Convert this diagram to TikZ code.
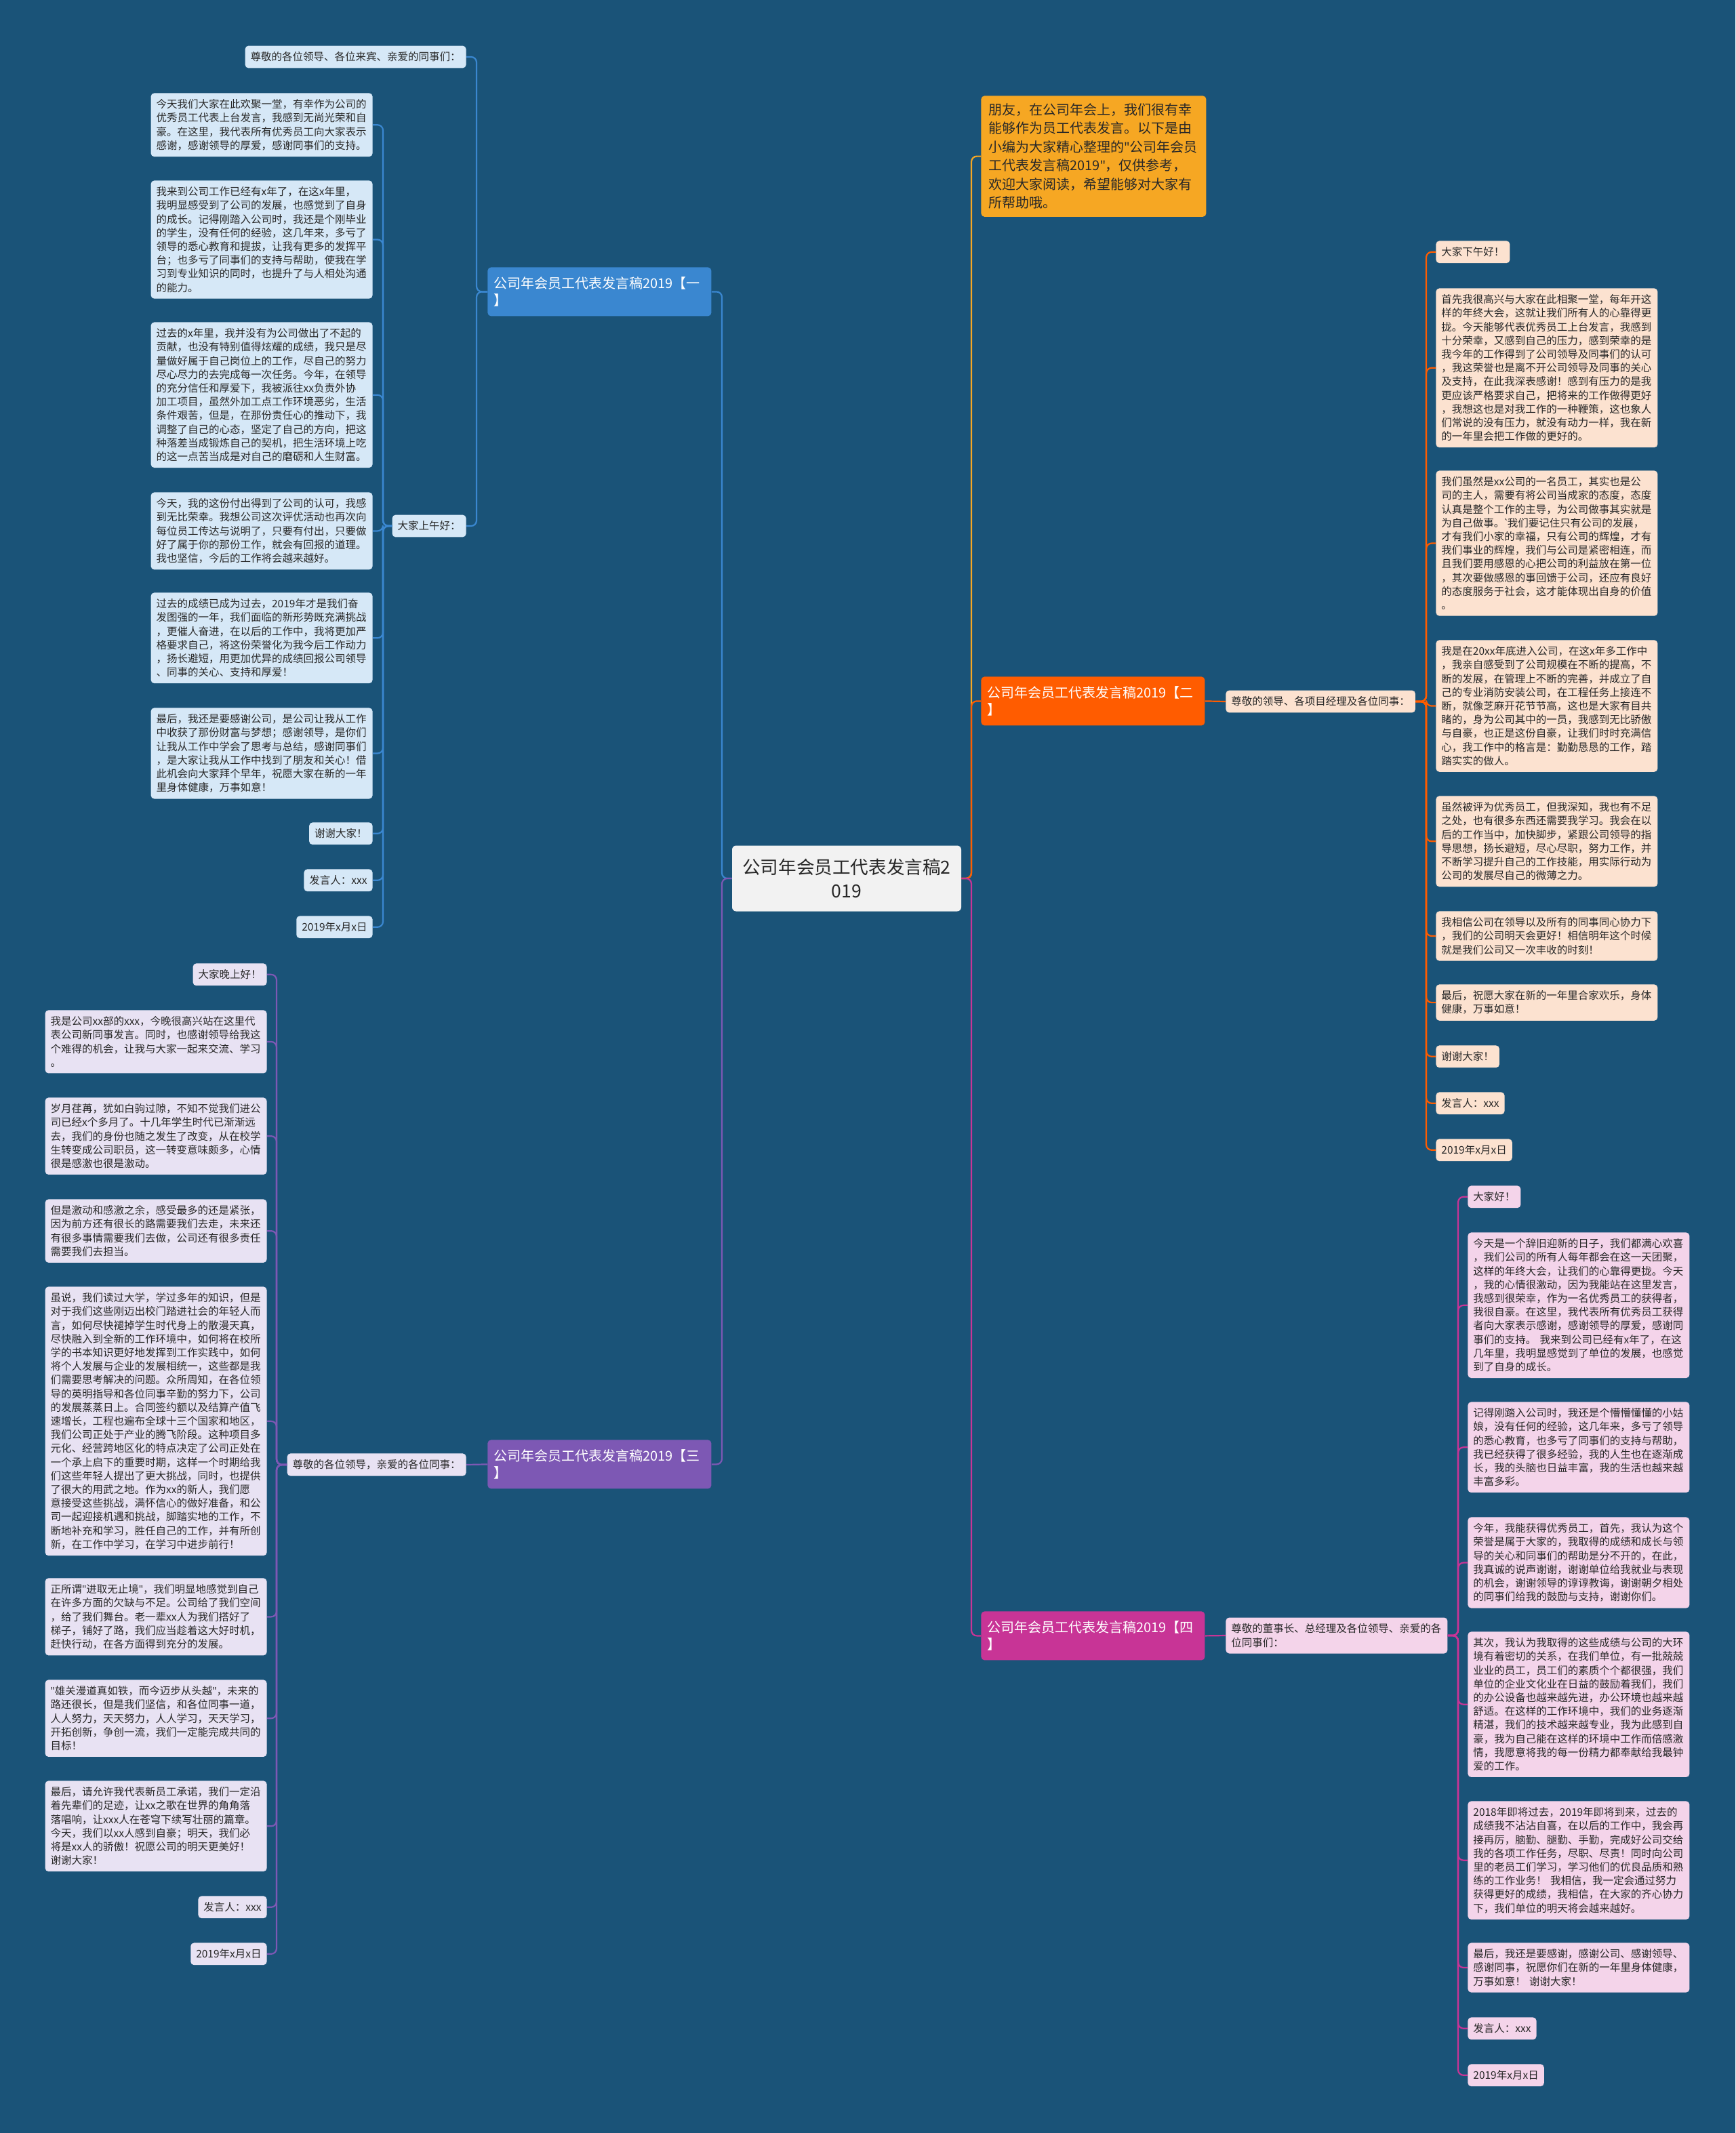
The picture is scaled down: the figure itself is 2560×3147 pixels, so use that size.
\documentclass[tikz,border=0pt]{standalone}
\usepackage{fontspec}
\setmainfont{Noto Sans CJK SC}
\newfontfamily\quotefont{Noto Sans}

\definecolor{bgblue}{RGB}{26,83,120}
\definecolor{leaftext}{RGB}{40,40,40}
\definecolor{rootfill}{RGB}{242,242,242}
\definecolor{introcol}{RGB}{246,167,35}
\definecolor{b1col}{RGB}{58,135,208}
\definecolor{b2col}{RGB}{255,92,0}
\definecolor{b3col}{RGB}{125,88,180}
\definecolor{b4col}{RGB}{200,52,150}
\definecolor{leaf1}{RGB}{214,232,247}
\definecolor{leaf2}{RGB}{252,226,208}
\definecolor{leaf3}{RGB}{232,226,243}
\definecolor{leaf4}{RGB}{244,212,234}

\newcommand{\leaffont}{\fontsize{7.75pt}{10.1pt}\selectfont}
\newcommand{\branchfont}{\fontsize{10pt}{12.5pt}\selectfont}
\newcommand{\introfont}{\fontsize{10pt}{13.75pt}\selectfont}
\newcommand{\rootfont}{\fontsize{13.3pt}{17.5pt}\selectfont}
\newcommand{\qmark}{{\quotefont"}}

\tikzset{
  leaf/.style={rounded corners=2.5pt, inner xsep=4pt, inner ysep=4.6pt,
    align=left, font=\leaffont, text=leaftext},
  para/.style={leaf, text width=155.5pt},
  branch/.style={rounded corners=2.5pt, inner xsep=4.5pt, text width=156pt,
    minimum height=36pt, align=left, font=\branchfont, text=white},
  root/.style={fill=rootfill, rounded corners=3pt, inner sep=0pt,
    minimum width=169pt, minimum height=48.5pt, align=center,
    font=\rootfont, text=leaftext},
  wire/.style={line width=1.1pt, rounded corners=4pt},
}

\begin{document}
\begin{tikzpicture}[x=0.5pt,y=-0.5pt]
  % Background
  \fill[bgblue] (0,0) rectangle (2560,3147);
  \useasboundingbox (0,0) rectangle (2560,3147);

  % Trunks
  \coordinate (t0l) at (1065,0);
  \coordinate (t0r) at (1433,0);
  \coordinate (t1) at (703,0);
  \coordinate (t1b) at (565,0);
  \coordinate (t2) at (2104,0);
  \coordinate (t3) at (408,0);
  \coordinate (t4) at (2151,0);

  % Centre
  \node[root] (root) at (1249,1296) {公司年会员工代表发言稿2\\019};

  % Main branches
  \node[branch, fill=b1col, anchor=north west] (b1) at (719,394) {公司年会员工代表发言稿2019【一\\】};
  \node[branch, fill=b2col, anchor=north west] (b2) at (1447,998) {公司年会员工代表发言稿2019【二\\】};
  \node[branch, fill=b3col, anchor=north west] (b3) at (719,2124) {公司年会员工代表发言稿2019【三\\】};
  \node[branch, fill=b4col, anchor=north west] (b4) at (1447,2377) {公司年会员工代表发言稿2019【四\\】};
  \node[rounded corners=2.5pt, fill=introcol, inner xsep=5.5pt, inner ysep=5.6pt,
    text width=155pt, align=left, font=\introfont, text=leaftext, anchor=north west]
    (intro) at (1447,141) {朋友，在公司年会上，我们很有幸\\能够作为员工代表发言。以下是由\\小编为大家精心整理的\qmark 公司年会员\\工代表发言稿2019\qmark ，仅供参考，\\欢迎大家阅读，希望能够对大家有\\所帮助哦。};

  \draw[wire, b1col] (root.west) -- (root.west -| t0l) |- (b1.east);
  \draw[wire, b3col] (root.west) -- (root.west -| t0l) |- (b3.east);
  \draw[wire, introcol] (root.east) -- (root.east -| t0r) |- (intro.west);
  \draw[wire, b2col] (root.east) -- (root.east -| t0r) |- (b2.west);
  \draw[wire, b4col] (root.east) -- (root.east -| t0r) |- (b4.west);

  % Branch one
  \node[leaf, fill=leaf1, anchor=east] (top1) at (688,84) {尊敬的各位领导、各位来宾、亲爱的同事们：};
  \node[leaf, fill=leaf1, anchor=east] (hi1) at (688,776) {大家上午好：};
  \node[para, fill=leaf1, anchor=north east] (l1a) at (550,137) {今天我们大家在此欢聚一堂，有幸作为公司的\\优秀员工代表上台发言，我感到无尚光荣和自\\豪。在这里，我代表所有优秀员工向大家表示\\感谢，感谢领导的厚爱，感谢同事们的支持。};
  \node[para, fill=leaf1, anchor=north east] (l1b) at (550,266) {我来到公司工作已经有x年了，在这x年里，\\我明显感受到了公司的发展，也感觉到了自身\\的成长。记得刚踏入公司时，我还是个刚毕业\\的学生，没有任何的经验，这几年来，多亏了\\领导的悉心教育和提拔，让我有更多的发挥平\\台；也多亏了同事们的支持与帮助，使我在学\\习到专业知识的同时，也提升了与人相处沟通\\的能力。};
  \node[para, fill=leaf1, anchor=north east] (l1c) at (550,475) {过去的x年里，我并没有为公司做出了不起的\\贡献，也没有特别值得炫耀的成绩，我只是尽\\量做好属于自己岗位上的工作，尽自己的努力\\尽心尽力的去完成每一次任务。今年，在领导\\的充分信任和厚爱下，我被派往xx负责外协\\加工项目，虽然外加工点工作环境恶劣，生活\\条件艰苦，但是，在那份责任心的推动下，我\\调整了自己的心态，坚定了自己的方向，把这\\种落差当成锻炼自己的契机，把生活环境上吃\\的这一点苦当成是对自己的磨砺和人生财富。};
  \node[para, fill=leaf1, anchor=north east] (l1d) at (550,726) {今天，我的这份付出得到了公司的认可，我感\\到无比荣幸。我想公司这次评优活动也再次向\\每位员工传达与说明了，只要有付出，只要做\\好了属于你的那份工作，就会有回报的道理。\\我也坚信，今后的工作将会越来越好。};
  \node[para, fill=leaf1, anchor=north east] (l1e) at (550,874) {过去的成绩已成为过去，2019年才是我们奋\\发图强的一年，我们面临的新形势既充满挑战\\，更催人奋进，在以后的工作中，我将更加严\\格要求自己，将这份荣誉化为我今后工作动力\\，扬长避短，用更加优异的成绩回报公司领导\\、同事的关心、支持和厚爱！};
  \node[para, fill=leaf1, anchor=north east] (l1f) at (550,1044) {最后，我还是要感谢公司，是公司让我从工作\\中收获了那份财富与梦想；感谢领导，是你们\\让我从工作中学会了思考与总结，感谢同事们\\，是大家让我从工作中找到了朋友和关心！借\\此机会向大家拜个早年，祝愿大家在新的一年\\里身体健康，万事如意！};
  \node[leaf, fill=leaf1, anchor=north east] (l1g) at (550,1213) {谢谢大家！};
  \node[leaf, fill=leaf1, anchor=north east] (l1h) at (550,1282) {发言人：xxx};
  \node[leaf, fill=leaf1, anchor=north east] (l1i) at (550,1351) {2019年x月x日};

  \foreach \n in {top1,hi1}
    \draw[wire, b1col] (b1.west) -- (b1.west -| t1) |- (\n.east);
  \foreach \n in {l1a,l1b,l1c,l1d,l1e,l1f,l1g,l1h,l1i}
    \draw[wire, b1col] (hi1.west) -- (hi1.west -| t1b) |- (\n.east);

  % Branch two
  \node[leaf, fill=leaf2, anchor=west] (hi2) at (1808,1035) {尊敬的领导、各项目经理及各位同事：};
  \node[leaf, fill=leaf2, anchor=north west] (l2a) at (2118,355) {大家下午好！};
  \node[para, fill=leaf2, anchor=north west] (l2b) at (2118,425) {首先我很高兴与大家在此相聚一堂，每年开这\\样的年终大会，这就让我们所有人的心靠得更\\拢。今天能够代表优秀员工上台发言，我感到\\十分荣幸，又感到自己的压力，感到荣幸的是\\我今年的工作得到了公司领导及同事们的认可\\，我这荣誉也是离不开公司领导及同事的关心\\及支持，在此我深表感谢！感到有压力的是我\\更应该严格要求自己，把将来的工作做得更好\\，我想这也是对我工作的一种鞭策，这也象人\\们常说的没有压力，就没有动力一样，我在新\\的一年里会把工作做的更好的。};
  \node[para, fill=leaf2, anchor=north west] (l2c) at (2118,694) {我们虽然是xx公司的一名员工，其实也是公\\司的主人，需要有将公司当成家的态度，态度\\认真是整个工作的主导，为公司做事其实就是\\为自己做事。{\quotefont\textasciigrave}我们要记住只有公司的发展，\\才有我们小家的幸福，只有公司的辉煌，才有\\我们事业的辉煌，我们与公司是紧密相连，而\\且我们要用感恩的心把公司的利益放在第一位\\，其次要做感恩的事回馈于公司，还应有良好\\的态度服务于社会，这才能体现出自身的价值\\。};
  \node[para, fill=leaf2, anchor=north west] (l2d) at (2118,944) {我是在20xx年底进入公司，在这x年多工作中\\，我亲自感受到了公司规模在不断的提高，不\\断的发展，在管理上不断的完善，并成立了自\\己的专业消防安装公司，在工程任务上接连不\\断，就像芝麻开花节节高，这也是大家有目共\\睹的，身为公司其中的一员，我感到无比骄傲\\与自豪，也正是这份自豪，让我们时时充满信\\心，我工作中的格言是：勤勤恳恳的工作，踏\\踏实实的做人。};
  \node[para, fill=leaf2, anchor=north west] (l2e) at (2118,1174) {虽然被评为优秀员工，但我深知，我也有不足\\之处，也有很多东西还需要我学习。我会在以\\后的工作当中，加快脚步，紧跟公司领导的指\\导思想，扬长避短，尽心尽职，努力工作，并\\不断学习提升自己的工作技能，用实际行动为\\公司的发展尽自己的微薄之力。};
  \node[para, fill=leaf2, anchor=north west] (l2f) at (2118,1344) {我相信公司在领导以及所有的同事同心协力下\\，我们的公司明天会更好！相信明年这个时候\\就是我们公司又一次丰收的时刻！};
  \node[para, fill=leaf2, anchor=north west] (l2g) at (2118,1452) {最后，祝愿大家在新的一年里合家欢乐，身体\\健康，万事如意！};
  \node[leaf, fill=leaf2, anchor=north west] (l2h) at (2118,1542) {谢谢大家！};
  \node[leaf, fill=leaf2, anchor=north west] (l2i) at (2118,1611) {发言人：xxx};
  \node[leaf, fill=leaf2, anchor=north west] (l2j) at (2118,1680) {2019年x月x日};

  \draw[wire, b2col] (b2.east) -- (hi2.west);
  \foreach \n in {l2a,l2b,l2c,l2d,l2e,l2f,l2g,l2h,l2i,l2j}
    \draw[wire, b2col] (hi2.east) -- (hi2.east -| t2) |- (\n.west);

  % Branch three
  \node[leaf, fill=leaf3, anchor=east] (hi3) at (688,2161) {尊敬的各位领导，亲爱的各位同事：};
  \node[leaf, fill=leaf3, anchor=north east] (l3a) at (394,1421) {大家晚上好！};
  \node[para, fill=leaf3, anchor=north east] (l3b) at (394,1490) {我是公司xx部的xxx，今晚很高兴站在这里代\\表公司新同事发言。同时，也感谢领导给我这\\个难得的机会，让我与大家一起来交流、学习\\。};
  \node[para, fill=leaf3, anchor=north east] (l3c) at (394,1619) {岁月荏苒，犹如白驹过隙，不知不觉我们进公\\司已经x个多月了。十几年学生时代已渐渐远\\去，我们的身份也随之发生了改变，从在校学\\生转变成公司职员，这一转变意味颇多，心情\\很是感激也很是激动。};
  \node[para, fill=leaf3, anchor=north east] (l3d) at (394,1769) {但是激动和感激之余，感受最多的还是紧张，\\因为前方还有很长的路需要我们去走，未来还\\有很多事情需要我们去做，公司还有很多责任\\需要我们去担当。};
  \node[para, fill=leaf3, anchor=north east] (l3e) at (394,1898) {虽说，我们读过大学，学过多年的知识，但是\\对于我们这些刚迈出校门踏进社会的年轻人而\\言，如何尽快褪掉学生时代身上的散漫天真，\\尽快融入到全新的工作环境中，如何将在校所\\学的书本知识更好地发挥到工作实践中，如何\\将个人发展与企业的发展相统一，这些都是我\\们需要思考解决的问题。众所周知，在各位领\\导的英明指导和各位同事辛勤的努力下，公司\\的发展蒸蒸日上。合同签约额以及结算产值飞\\速增长，工程也遍布全球十三个国家和地区，\\我们公司正处于产业的腾飞阶段。这种项目多\\元化、经营跨地区化的特点决定了公司正处在\\一个承上启下的重要时期，这样一个时期给我\\们这些年轻人提出了更大挑战，同时，也提供\\了很大的用武之地。作为xx的新人，我们愿\\意接受这些挑战，满怀信心的做好准备，和公\\司一起迎接机遇和挑战，脚踏实地的工作，不\\断地补充和学习，胜任自己的工作，并有所创\\新，在工作中学习，在学习中进步前行！};
  \node[para, fill=leaf3, anchor=north east] (l3f) at (394,2328) {正所谓\qmark 进取无止境\qmark ，我们明显地感觉到自己\\在许多方面的欠缺与不足。公司给了我们空间\\，给了我们舞台。老一辈xx人为我们搭好了\\梯子，铺好了路，我们应当趁着这大好时机，\\赶快行动，在各方面得到充分的发展。};
  \node[para, fill=leaf3, anchor=north east] (l3g) at (394,2478) {\qmark 雄关漫道真如铁，而今迈步从头越\qmark ，未来的\\路还很长，但是我们坚信，和各位同事一道，\\人人努力，天天努力，人人学习，天天学习，\\开拓创新，争创一流，我们一定能完成共同的\\目标！};
  \node[para, fill=leaf3, anchor=north east] (l3h) at (394,2627) {最后，请允许我代表新员工承诺，我们一定沿\\着先辈们的足迹，让xx之歌在世界的角角落\\落唱响，让xxx人在苍穹下续写壮丽的篇章。\\今天，我们以xx人感到自豪；明天，我们必\\将是xx人的骄傲！祝愿公司的明天更美好！\\谢谢大家！};
  \node[leaf, fill=leaf3, anchor=north east] (l3i) at (394,2797) {发言人：xxx};
  \node[leaf, fill=leaf3, anchor=north east] (l3j) at (394,2866) {2019年x月x日};

  \draw[wire, b3col] (b3.west) -- (hi3.east);
  \foreach \n in {l3a,l3b,l3c,l3d,l3e,l3f,l3g,l3h,l3i,l3j}
    \draw[wire, b3col] (hi3.west) -- (hi3.west -| t3) |- (\n.east);

  % Branch four
  \node[para, fill=leaf4, anchor=west] (hi4) at (1808,2413) {尊敬的董事长、总经理及各位领导、亲爱的各\\位同事们：};
  \node[leaf, fill=leaf4, anchor=north west] (l4a) at (2165,1749) {大家好！};
  \node[para, fill=leaf4, anchor=north west] (l4b) at (2165,1818) {今天是一个辞旧迎新的日子，我们都满心欢喜\\，我们公司的所有人每年都会在这一天团聚，\\这样的年终大会，让我们的心靠得更拢。今天\\，我的心情很激动，因为我能站在这里发言，\\我感到很荣幸，作为一名优秀员工的获得者，\\我很自豪。在这里，我代表所有优秀员工获得\\者向大家表示感谢，感谢领导的厚爱，感谢同\\事们的支持。~我来到公司已经有x年了，在这\\几年里，我明显感觉到了单位的发展，也感觉\\到了自身的成长。};
  \node[para, fill=leaf4, anchor=north west] (l4c) at (2165,2068) {记得刚踏入公司时，我还是个懵懵懂懂的小姑\\娘，没有任何的经验，这几年来，多亏了领导\\的悉心教育，也多亏了同事们的支持与帮助，\\我已经获得了很多经验，我的人生也在逐渐成\\长，我的头脑也日益丰富，我的生活也越来越\\丰富多彩。};
  \node[para, fill=leaf4, anchor=north west] (l4d) at (2165,2238) {今年，我能获得优秀员工，首先，我认为这个\\荣誉是属于大家的，我取得的成绩和成长与领\\导的关心和同事们的帮助是分不开的，在此，\\我真诚的说声谢谢，谢谢单位给我就业与表现\\的机会，谢谢领导的谆谆教诲，谢谢朝夕相处\\的同事们给我的鼓励与支持，谢谢你们。};
  \node[para, fill=leaf4, anchor=north west] (l4e) at (2165,2407) {其次，我认为我取得的这些成绩与公司的大环\\境有着密切的关系，在我们单位，有一批兢兢\\业业的员工，员工们的素质个个都很强，我们\\单位的企业文化业在日益的鼓励着我们，我们\\的办公设备也越来越先进，办公环境也越来越\\舒适。在这样的工作环境中，我们的业务逐渐\\精湛，我们的技术越来越专业，我为此感到自\\豪，我为自己能在这样的环境中工作而倍感激\\情，我愿意将我的每一份精力都奉献给我最钟\\爱的工作。};
  \node[para, fill=leaf4, anchor=north west] (l4f) at (2165,2657) {2018年即将过去，2019年即将到来，过去的\\成绩我不沾沾自喜，在以后的工作中，我会再\\接再厉，脑勤、腿勤、手勤，完成好公司交给\\我的各项工作任务，尽职、尽责！同时向公司\\里的老员工们学习，学习他们的优良品质和熟\\练的工作业务！~我相信，我一定会通过努力\\获得更好的成绩，我相信，在大家的齐心协力\\下，我们单位的明天将会越来越好。};
  \node[para, fill=leaf4, anchor=north west] (l4g) at (2165,2866) {最后，我还是要感谢，感谢公司、感谢领导、\\感谢同事，祝愿你们在新的一年里身体健康，\\万事如意！~谢谢大家！};
  \node[leaf, fill=leaf4, anchor=north west] (l4h) at (2165,2976) {发言人：xxx};
  \node[leaf, fill=leaf4, anchor=north west] (l4i) at (2165,3045) {2019年x月x日};

  \draw[wire, b4col] (b4.east) -- (hi4.west);
  \foreach \n in {l4a,l4b,l4c,l4d,l4e,l4f,l4g,l4h,l4i}
    \draw[wire, b4col] (hi4.east) -- (hi4.east -| t4) |- (\n.west);
\end{tikzpicture}
\end{document}
